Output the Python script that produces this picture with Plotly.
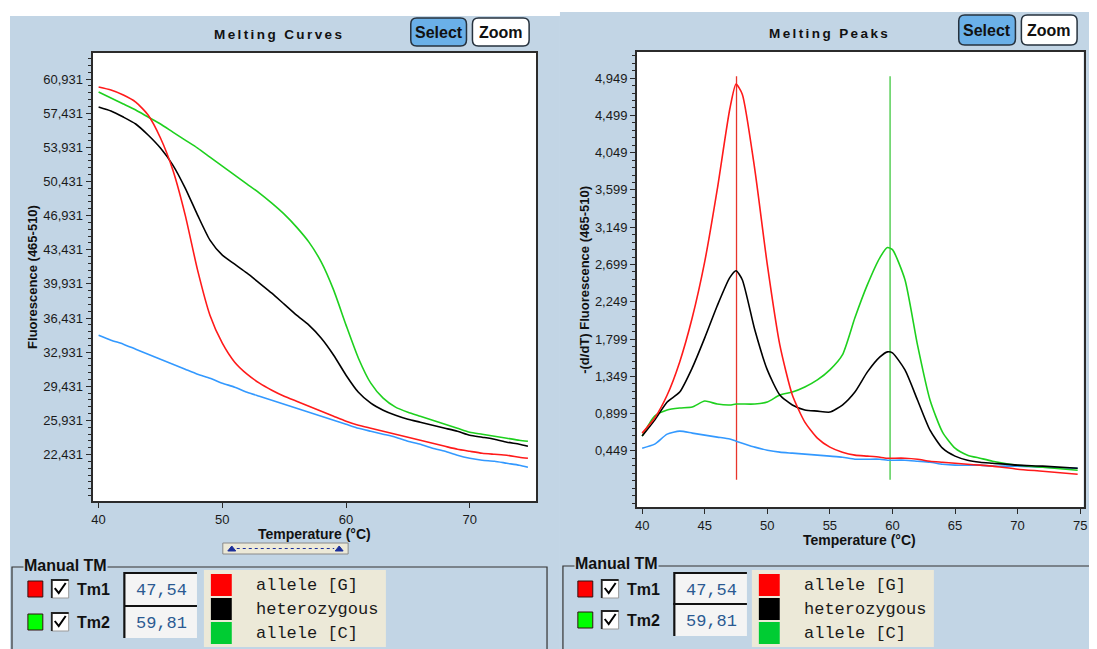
import plotly.graph_objects as go

# The page body has an 8px margin, so the figure is drawn 8px in from the top-left corner.
OFF = 8
W, H = 1097 - OFF, 649 - OFF

# ---------------- data ----------------
temp_melt = [40, 41, 42, 43, 44, 45, 46, 47, 48, 49, 50, 51, 52, 53, 54, 55, 56, 57,
             58, 59, 60, 61, 62, 63, 64, 65, 66, 67, 68, 69, 70, 71, 72, 73, 74, 74.7]
melt_allele_g = [60.11, 59.80, 59.29, 58.57, 57.24, 54.88, 51.60, 46.98, 41.34, 36.72, 33.85, 31.90,
                 30.67, 29.75, 29.03, 28.41, 27.90, 27.39, 26.88, 26.36, 25.85, 25.44, 25.13, 24.82,
                 24.52, 24.21, 23.90, 23.59, 23.28, 22.98, 22.77, 22.57, 22.46, 22.36, 22.16, 22.05]
melt_hetero = [58.06, 57.65, 57.03, 56.32, 55.19, 53.85, 52.11, 49.75, 46.98, 44.42, 42.88, 41.95,
               41.03, 40.01, 38.98, 37.85, 36.72, 35.70, 34.36, 32.62, 30.57, 28.82, 27.70, 26.98,
               26.46, 26.05, 25.75, 25.44, 25.13, 24.82, 24.41, 24.21, 24.00, 23.70, 23.49, 23.28]
melt_allele_c = [59.60, 58.98, 58.37, 57.75, 57.03, 56.32, 55.49, 54.67, 53.85, 52.93, 52.01, 51.08,
                 50.16, 49.24, 48.21, 47.08, 45.75, 44.21, 42.16, 39.29, 35.70, 32.31, 29.75, 28.21,
                 27.29, 26.77, 26.36, 25.95, 25.54, 25.13, 24.72, 24.52, 24.31, 24.11, 23.90, 23.80]
melt_blank = [34.67, 34.16, 33.75, 33.23, 32.72, 32.21, 31.70, 31.18, 30.67, 30.26, 29.75, 29.34,
              28.82, 28.41, 28.00, 27.59, 27.18, 26.77, 26.36, 25.95, 25.54, 25.13, 24.82, 24.52,
              24.21, 23.80, 23.49, 23.08, 22.77, 22.36, 22.05, 21.85, 21.75, 21.54, 21.34, 21.13]

temp_peak = [40, 41, 42, 43, 44, 45, 46, 47, 47.5, 48, 49, 50, 51, 52, 53, 54, 55, 56, 57, 58,
             59, 59.6, 60, 61, 62, 63, 64, 65, 66, 67, 68, 70, 72, 74.8]
peak_allele_g = [0.663, 0.845, 1.123, 1.523, 2.055, 2.733, 3.605, 4.573, 4.876, 4.755, 3.847, 2.697,
                 1.728, 1.123, 0.796, 0.603, 0.494, 0.433, 0.397, 0.385, 0.372, 0.360, 0.360, 0.360,
                 0.348, 0.324, 0.312, 0.300, 0.288, 0.276, 0.264, 0.227, 0.203, 0.167]
peak_hetero = [0.627, 0.820, 1.038, 1.159, 1.450, 1.813, 2.201, 2.540, 2.624, 2.515, 1.910, 1.426,
               1.123, 1.002, 0.942, 0.929, 0.917, 1.002, 1.159, 1.402, 1.583, 1.644, 1.632, 1.426,
               1.063, 0.699, 0.481, 0.385, 0.336, 0.312, 0.300, 0.276, 0.264, 0.239]
peak_allele_c = [0.627, 0.869, 0.942, 0.966, 0.978, 1.050, 1.014, 1.002, 1.014, 1.014, 1.014, 1.038,
                 1.123, 1.159, 1.220, 1.305, 1.426, 1.607, 2.055, 2.455, 2.782, 2.903, 2.878, 2.515,
                 1.728, 1.063, 0.675, 0.481, 0.397, 0.360, 0.324, 0.276, 0.251, 0.215]
peak_blank = [0.481, 0.530, 0.651, 0.687, 0.663, 0.639, 0.615, 0.591, 0.566, 0.542, 0.494, 0.457,
              0.433, 0.421, 0.409, 0.397, 0.385, 0.372, 0.348, 0.348, 0.348, 0.336, 0.336, 0.336,
              0.324, 0.312, 0.288, 0.276, 0.276, 0.276, 0.264, 0.264, 0.251, 0.239]

tm_labels = ["Tm1", "Tm2"]
tm_values = [47.54, 59.81]
tm_text = ["47,54", "59,81"]
tm_line_span = [0.10, 4.97]

melt_yticks = [22.431, 25.931, 29.431, 32.931, 36.431, 39.931, 43.431, 46.931,
               50.431, 53.931, 57.431, 60.931]
peak_yticks = [0.449, 0.899, 1.349, 1.799, 2.249, 2.699, 3.149, 3.599, 4.049, 4.499, 4.949]
melt_xticks = [40, 50, 60, 70]
peak_xticks = [40, 45, 50, 55, 60, 65, 70, 75]

legend_labels = ["allele [G]", "heterozygous", "allele [C]"]

# ---------------- style ----------------
C_RED = "#ff1a1a"
C_BLACK = "#000000"
C_GREEN = "#1ed01e"
C_BLUE = "#3399ff"
PANEL = "#c2d5e5"
AXIS = "#2b2b2b"
TICKFONT = dict(family="Liberation Sans, Arial", size=13, color="#1a1a1a")
BOLD = "Liberation Sans, Arial"


def px(x):
    return (x - OFF) / W


def py(y):
    return 1 - (y - OFF) / H


def fmt(v):
    return f"{v:.3f}".replace(".", ",")


fig = go.Figure()

series_melt = [(melt_blank, C_BLUE), (melt_allele_c, C_GREEN), (melt_hetero, C_BLACK), (melt_allele_g, C_RED)]
for vals, col in series_melt:
    fig.add_trace(go.Scatter(x=temp_melt, y=vals, mode="lines", xaxis="x", yaxis="y",
                             line=dict(color=col, width=1.6, shape="spline", smoothing=0.6),
                             hoverinfo="skip", showlegend=False))

tm_colors = ["#e8352b", "#3fc83f"]
for val, col in zip(tm_values, tm_colors):
    fig.add_trace(go.Scatter(x=[val, val], y=tm_line_span, mode="lines", xaxis="x2", yaxis="y2",
                             line=dict(color=col, width=1.3), hoverinfo="skip", showlegend=False))

series_peak = [(peak_blank, C_BLUE), (peak_allele_c, C_GREEN), (peak_hetero, C_BLACK), (peak_allele_g, C_RED)]
for vals, col in series_peak:
    fig.add_trace(go.Scatter(x=temp_peak, y=vals, mode="lines", xaxis="x2", yaxis="y2",
                             line=dict(color=col, width=1.6, shape="spline", smoothing=0.6),
                             hoverinfo="skip", showlegend=False))

axis_common = dict(showgrid=False, zeroline=False, showline=True, mirror=True, linecolor=AXIS,
                   linewidth=2, ticks="outside", ticklen=5, tickcolor=AXIS, tickwidth=1,
                   tickfont=TICKFONT, fixedrange=True)

shapes = []
annotations = []


def rect(x0, y0, x1, y1, fill, line_color=None, lw=0, layer="above"):
    return dict(type="rect", xref="paper", yref="paper", x0=px(x0), x1=px(x1), y0=py(y1), y1=py(y0),
                fillcolor=fill, line=dict(color=line_color or fill, width=lw), layer=layer)


def path(points, color, width, closed=False, fill=None, dash=None):
    d = "M " + " L ".join(f"{px(x):.5f},{py(y):.5f}" for x, y in points)
    if closed:
        d += " Z"
    s = dict(type="path", xref="paper", yref="paper", path=d,
             line=dict(color=color, width=width), layer="above")
    if dash:
        s["line"]["dash"] = dash
    if fill:
        s["fillcolor"] = fill
    return s


def rounded(x0, y0, x1, y1, r, fill, line_color):
    rx, ry = r, r
    pts = (f"M {px(x0 + rx):.5f},{py(y0):.5f} L {px(x1 - rx):.5f},{py(y0):.5f} "
           f"Q {px(x1):.5f},{py(y0):.5f} {px(x1):.5f},{py(y0 + ry):.5f} "
           f"L {px(x1):.5f},{py(y1 - ry):.5f} Q {px(x1):.5f},{py(y1):.5f} {px(x1 - rx):.5f},{py(y1):.5f} "
           f"L {px(x0 + rx):.5f},{py(y1):.5f} Q {px(x0):.5f},{py(y1):.5f} {px(x0):.5f},{py(y1 - ry):.5f} "
           f"L {px(x0):.5f},{py(y0 + ry):.5f} Q {px(x0):.5f},{py(y0):.5f} {px(x0 + rx):.5f},{py(y0):.5f} Z")
    return dict(type="path", xref="paper", yref="paper", path=pts, fillcolor=fill,
                line=dict(color=line_color, width=1.5), layer="above")


def text(x, y, s, size, family=BOLD, color="#111111", xanchor="center", bold=False, angle=0, bg=None):
    a = dict(x=px(x), y=py(y), xref="paper", yref="paper", text=(f"<b>{s}</b>" if bold else s),
             showarrow=False, xanchor=xanchor, yanchor="middle", textangle=angle,
             font=dict(family=family, size=size, color=color))
    if bg:
        a["bgcolor"] = bg
        a["borderpad"] = 0
    annotations.append(a)


# panels and plot backgrounds
shapes.append(rect(8, 16, 561, 649, PANEL, layer="below"))
shapes.append(rect(561, 12, 1097, 649, PANEL, layer="below"))
shapes.append(rect(91, 53, 537, 501, "white", layer="below"))
shapes.append(rect(638.5, 52, 1087.5, 507, "white", layer="below"))

# titles
text(278, 34.5, '<span style="letter-spacing:2.4px">Melting Curves</span>', 13.5, bold=True)
text(832, 33, '<span style="letter-spacing:2.4px">Melting Peaks</span>', 13.5, bold=True)

# buttons
for (sx0, sy0, sx1, sy1), (zx0, zy0, zx1, zy1) in [((411, 18, 467, 46), (473, 18, 530, 46)),
                                                   ((962, 15, 1019, 45), (1025, 15, 1081, 45))]:
    shapes.append(rounded(sx0, sy0, sx1, sy1, 6, "#6ab0e8", "#26323e"))
    shapes.append(rounded(zx0, zy0, zx1, zy1, 6, "#ffffff", "#26323e"))
    text((sx0 + sx1) / 2, (sy0 + sy1) / 2 + 0.5, "Select", 16, bold=True)
    text((zx0 + zx1) / 2, (zy0 + zy1) / 2 + 0.5, "Zoom", 16, bold=True)

# axis titles
text(314, 533.5, "Temperature (°C)", 14, bold=True)
text(862.5, 539.5, "Temperature (°C)", 14, bold=True)
text(30, 277, "Fluorescence (465-510)", 13, bold=True, angle=-90)
text(585, 280, "-(d/dT) Fluorescence (465-510)", 13, bold=True, angle=-90)

# slider under left chart
shapes.append(rect(222, 543, 348, 554, "#ece9d8", "#8a8a8a", 1))
shapes.append(path([(236, 548.5), (334, 548.5)], "#1c2f9a", 1.2, dash="dot"))
for tx in (231, 339):
    shapes.append(path([(tx - 4, 551), (tx + 4, 551), (tx, 546)], "#1c2f9a", 1, closed=True, fill="#1c2f9a"))

# group boxes
shapes.append(path([(10, 649), (10, 567), (548, 567), (548, 649)], "#333333", 1.2))
shapes.append(path([(564, 649), (564, 566), (1097, 566)], "#333333", 1.2))
text(21, 565, "Manual TM", 16, bold=True, xanchor="left", bg=PANEL)
text(575, 563, "Manual TM", 16, bold=True, xanchor="left", bg=PANEL)

legend_colors = ["#ff0000", "#000000", "#00cc33"]
tm_square_colors = ["#ff0000", "#00ff00"]


def bottom_block(dx, rows_y, legend_box):
    for i, (lab, val_txt) in enumerate(zip(tm_labels, tm_text)):
        yc = rows_y[i]
        shapes.append(rect(26 + dx, yc - 8, 41 + dx, yc + 8, tm_square_colors[i], "#331111", 1))
        shapes.append(rect(50 + dx, yc - 9, 67 + dx, yc + 9, "#ffffff", "#9a9a9a", 1))
        shapes.append(path([(50 + dx, yc + 9), (50 + dx, yc - 9), (67 + dx, yc - 9)], "#222222", 1.8))
        shapes.append(path([(53 + dx, yc - 1), (57 + dx, yc + 4), (64 + dx, yc - 6)], "#000000", 2))
        text(73 + dx, yc + 0.5, lab, 16, bold=True, xanchor="left")
        shapes.append(rect(123 + dx, yc - 16, 196 + dx, yc + 16, "#f4f4f4"))
        shapes.append(path([(123 + dx, yc + 16), (123 + dx, yc - 16), (196 + dx, yc - 16)], "#111111", 2.2))
        text(160 + dx, yc + 1, val_txt, 17, family="Liberation Mono, Courier New", color="#2b5a92")
    lx0, ly0, lx1, ly1 = legend_box
    shapes.append(rect(lx0, ly0, lx1, ly1, "#ece9d8"))
    for j, (lab, col) in enumerate(zip(legend_labels, legend_colors)):
        y0 = ly0 + 4 + j * 24
        shapes.append(rect(lx0 + 7, y0, lx0 + 28, y0 + 22, col))
        text(lx0 + 50, y0 + 11.5, lab, 17, family="Liberation Mono, Courier New",
             color="#1a1a1a", xanchor="left")


bottom_block(0, [589, 622], (203, 570, 386, 647))
bottom_block(553, [589, 620], (754, 570, 937, 647))

fig.update_layout(
    width=W, height=H,
    margin=dict(l=0, r=0, t=0, b=0),
    paper_bgcolor="white", plot_bgcolor="white",
    showlegend=False,
    xaxis=dict(domain=[px(91), px(537)], range=[39.51, 75.36], anchor="y",
               tickmode="array", tickvals=melt_xticks, ticktext=[str(v) for v in melt_xticks], **axis_common),
    yaxis=dict(domain=[py(501), py(53)], range=[17.671, 63.598], anchor="x",
               tickmode="array", tickvals=melt_yticks, ticktext=[fmt(v) for v in melt_yticks],
               minor=dict(tickmode="linear", tick0=22.431, dtick=0.7, ticks="outside", ticklen=3,
                          tickcolor=AXIS, showgrid=False),
               **axis_common),
    xaxis2=dict(domain=[px(638.5), px(1087.5)], range=[39.59, 75.27], anchor="y2",
                tickmode="array", tickvals=peak_xticks, ticktext=[str(v) for v in peak_xticks], **axis_common),
    yaxis2=dict(domain=[py(507), py(52)], range=[-0.229, 5.264], anchor="x2",
                tickmode="array", tickvals=peak_yticks, ticktext=[fmt(v) for v in peak_yticks],
                minor=dict(tickmode="linear", tick0=0.449, dtick=0.09, ticks="outside", ticklen=3,
                           tickcolor=AXIS, showgrid=False),
                **axis_common),
    shapes=shapes,
    annotations=annotations,
)

fig.write_html("out.html")
